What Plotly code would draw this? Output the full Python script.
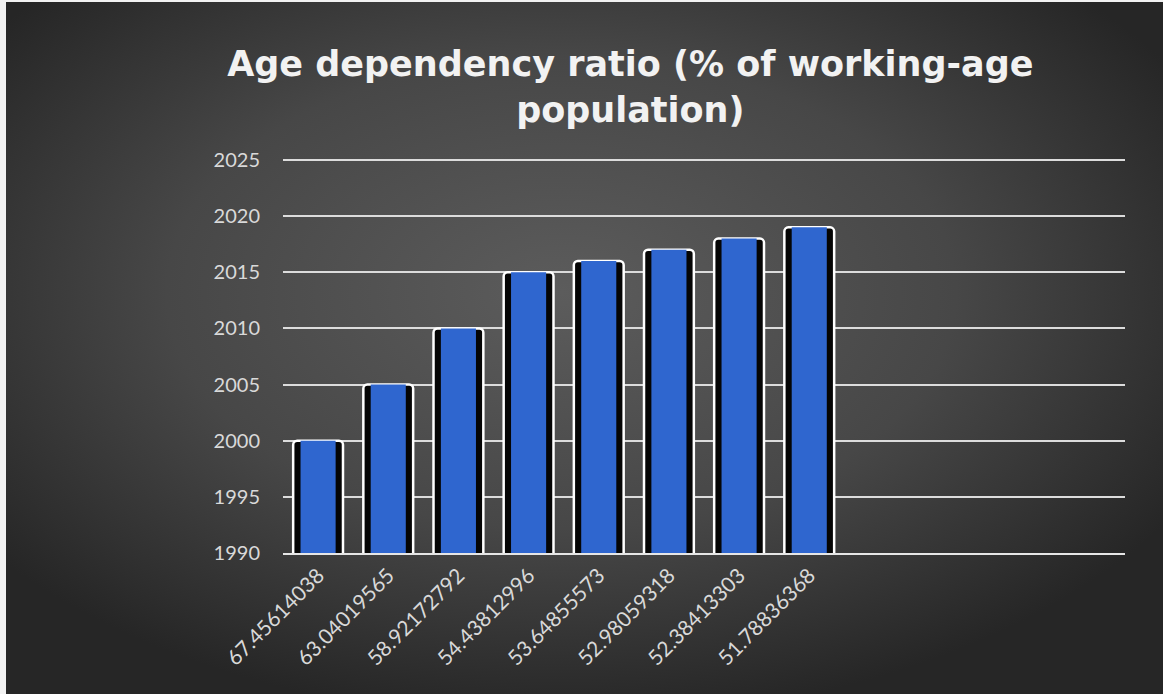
import base64
import plotly.graph_objects as go

# ---- data ----
categories = ["67.45614038", "63.04019565", "58.92172792", "54.43812996",
              "53.64855573", "52.98059318", "52.38413303", "51.78836368"]
years = [2000, 2005, 2010, 2015, 2016, 2017, 2018, 2019]
title_text = "Age dependency ratio (% of working-age<br>population)"

# ---- layout geometry (pixels) ----
W, H = 1163, 694
L, R, T, B = 283, 38, 160, 141
pw, ph = W - L - R, H - T - B

svg = f'''<svg xmlns="http://www.w3.org/2000/svg" width="1157" height="692" viewBox="0 0 1157 692">
<defs><radialGradient id="g" cx="48%" cy="42%" r="62%">
<stop offset="0%" stop-color="#5c5c5c"/><stop offset="55%" stop-color="#474747"/><stop offset="100%" stop-color="#262626"/>
</radialGradient></defs><rect width="1157" height="692" fill="url(#g)"/></svg>'''
bg_src = "data:image/svg+xml;base64," + base64.b64encode(svg.encode()).decode()

fig = go.Figure()
# outer dark frame with white outline
fig.add_trace(go.Bar(
    x=categories, y=years, width=0.71,
    marker=dict(color="#050505", line=dict(color="#ffffff", width=2.5), cornerradius=4),
    hoverinfo="skip", showlegend=False))
# blue face
fig.add_trace(go.Bar(
    x=categories, y=years, width=0.50,
    marker=dict(color="#2f66cf", line=dict(width=0)),
    showlegend=False))

fig.update_layout(
    width=W, height=H,
    margin=dict(l=L, r=R, t=T, b=B, pad=0),
    paper_bgcolor="#f2f2f2",
    plot_bgcolor="rgba(0,0,0,0)",
    barmode="overlay",
    title=dict(text=title_text, x=0.542, xanchor="center", y=0.890, yanchor="middle",
               font=dict(family="DejaVu Sans", size=35, color="#f2f2f2", weight="bold")),
    font=dict(family="Lato", size=21, color="#d9d9d9"),
    images=[dict(source=bg_src, xref="paper", yref="paper",
                 x=(6 - L) / pw, y=(H - B - 2) / ph,
                 sizex=(W - 6) / pw, sizey=(H - 2) / ph,
                 xanchor="left", yanchor="top", sizing="stretch", layer="below")],
    xaxis=dict(type="category", range=[-0.5, 11.5], tickangle=-45,
               showgrid=False, showline=True, linecolor="#e6e6e6", linewidth=2,
               ticks="", tickfont=dict(size=21, color="#d9d9d9")),
    yaxis=dict(range=[1990, 2025], dtick=5, showgrid=True, gridcolor="#dcdcdc",
               gridwidth=2, zeroline=False, showline=False, ticks="",
               ticklabelstandoff=22, tickfont=dict(size=20, color="#d9d9d9")),
    shapes=[dict(type="line", xref="paper", yref="paper", x0=0, x1=1, y0=1, y1=1,
                 line=dict(color="#dcdcdc", width=2), layer="below")],
)

fig.write_html("out.html")
